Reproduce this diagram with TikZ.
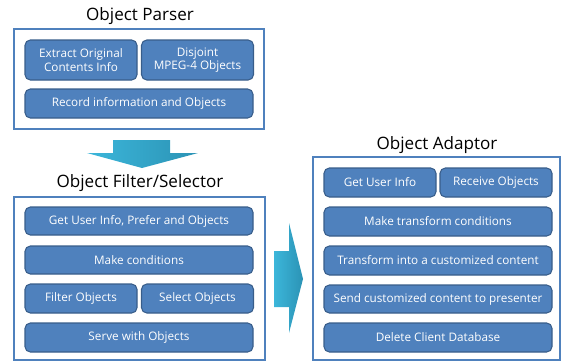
\documentclass[tikz,border=0pt]{standalone}
\usepackage{fontspec}
\setmainfont{Open Sans}
\definecolor{boxfill}{HTML}{4F81BD}
\definecolor{boxline}{HTML}{385D8A}
\definecolor{panel}{HTML}{4F81BD}
\definecolor{arrowA}{HTML}{3CB6DA}
\definecolor{arrowB}{HTML}{2B93B5}
\begin{document}
\begin{tikzpicture}[x=0.75pt,y=-0.75pt,
  ib/.style={draw=boxline, line width=0.8pt, fill=boxfill, rounded corners=4pt,
    text=white, font=\fontsize{8.8pt}{10pt}\selectfont, align=center, inner sep=0pt},
  half/.style={ib, minimum width=84pt},
  full/.style={ib, minimum width=171pt},
  panelbox/.style={draw=panel, line width=1.5pt},
  ttl/.style={font=\fontsize{12.8pt}{14pt}\selectfont, text=black},
  bigarrow/.style={left color=arrowA, right color=arrowB, draw=none}]
\useasboundingbox (0,0) rectangle (563,362);
% Object Parser
\node[ttl] (tparser) at (140,16) {Object Parser};
\draw[panelbox] (14,29) rectangle (264,129);
\node[half, minimum height=30pt] (extract) at (81,60) {Extract Original\\Contents Info};
\node[half, minimum height=30pt] (disjoint) at (197.5,60) {Disjoint\\MPEG-4 Objects};
\node[full, minimum height=21.75pt] (record) at (139,103.5) {Record information and Objects};
% down arrow
\path[bigarrow] (113,140) -- (170,140) -- (170,153) -- (198,153) -- (142,168) -- (87,153) -- (113,153) -- cycle;
% Object Filter/Selector
\node[ttl] (tfilter) at (140,183) {Object Filter/Selector};
\draw[panelbox] (14,197) rectangle (265,360);
\node[full, minimum height=21pt] (getpref) at (139,221) {Get User Info, Prefer and Objects};
\node[full, minimum height=21pt] (makecond) at (139,260) {Make conditions};
\node[half, minimum height=21.75pt] (filterobj) at (81,298.5) {Filter Objects};
\node[half, minimum height=21.75pt] (selectobj) at (197.5,298.5) {Select Objects};
\node[full, minimum height=21.75pt] (serve) at (139,337.5) {Serve with Objects};
% right arrow
\path[bigarrow] (274,251) -- (289,251) -- (289,223) -- (303,279) -- (289,333) -- (289,307) -- (274,307) -- cycle;
% Object Adaptor
\node[ttl] (tadaptor) at (437,145) {Object Adaptor};
\draw[panelbox] (313,157) rectangle (560,360);
\node[half, minimum height=21.75pt] (getuser) at (380,182.5) {Get User Info};
\node[half, minimum height=21.75pt] (receive) at (496,182.5) {Receive Objects};
\node[full, minimum height=21.75pt] (maketrans) at (438,221.5) {Make transform conditions};
\node[full, minimum height=21.75pt] (transform) at (438,260.5) {Transform into a customized content};
\node[full, minimum height=21pt] (send) at (438,299) {Send customized content to presenter};
\node[full, minimum height=21.75pt] (delete) at (438,337.5) {Delete Client Database};
\end{tikzpicture}
\end{document}
